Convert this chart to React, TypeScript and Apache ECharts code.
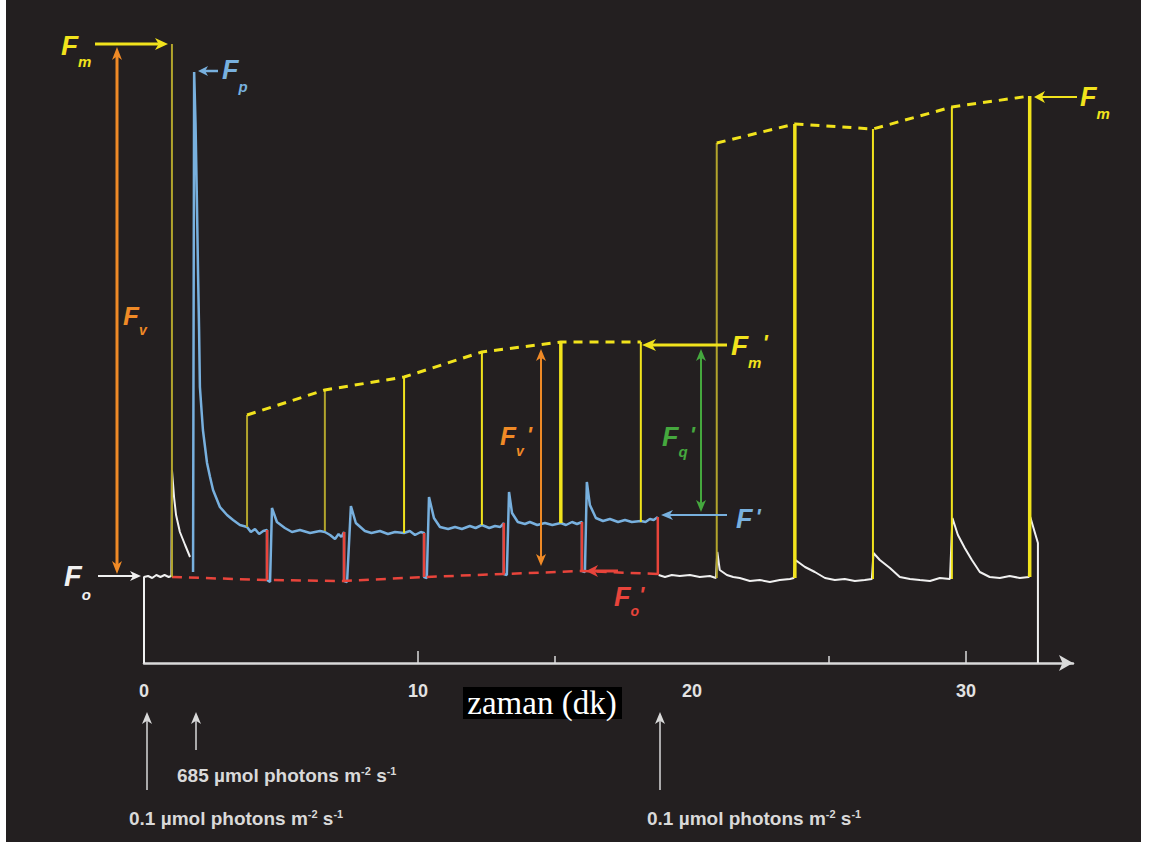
import React, { useEffect, useRef } from "react";
import * as echarts from "echarts";

// ---------- axis ----------
const TIME_LABELS = [0, 10, 20, 30];
const MAJOR_TICKS = [10, 30];
const MINOR_TICKS = [15, 25];

// ---------- traces (time in min, fluorescence in a.u.) ----------
// dark-adapted leaf: Fo baseline and the Fm saturating flash decay (white)
const darkTrace: number[][] = [
  [0, 0], [0, 86], [0.15, 87], [0.3, 85], [0.45, 88], [0.6, 86], [0.75, 88], [0.9, 86], [1.0, 87],
  [1.02, 193], [1.1, 165], [1.17, 148], [1.31, 131], [1.5, 118], [1.68, 106],
];

// actinic light on (blue)
const lightTrace: number[][] = [
  [1.79, 91], [1.83, 591], [1.88, 540], [1.93, 463], [1.97, 393], [2.01, 333], [2.04, 276], [2.15, 233],
  [2.3, 200], [2.41, 186], [2.52, 173], [2.77, 156], [3.03, 148], [3.25, 143], [3.5, 138], [3.76, 136],
  [3.9, 131], [4.05, 134], [4.2, 129], [4.35, 132], [4.49, 133],
  [4.49, 83], [4.6, 81], [4.67, 155], [4.85, 141], [5.14, 135], [5.4, 131], [5.69, 133], [6.06, 130],
  [6.42, 132], [6.6, 131], [6.79, 128], [6.97, 124], [7.1, 129], [7.2, 126], [7.3, 131],
  [7.3, 82], [7.41, 81], [7.55, 157], [7.73, 140], [8.06, 132], [8.3, 130], [8.61, 132], [8.9, 129],
  [9.16, 131], [9.49, 130], [9.7, 132], [9.89, 128], [10.1, 131], [10.22, 130],
  [10.22, 86], [10.32, 85], [10.4, 166], [10.58, 145], [10.8, 136], [11.1, 134], [11.35, 136], [11.6, 134],
  [11.89, 137], [12.1, 135], [12.33, 138], [12.6, 135], [12.81, 137], [13.0, 136], [13.13, 140],
  [13.13, 89], [13.24, 88], [13.32, 171], [13.43, 150], [13.64, 141], [13.9, 139], [14.08, 141], [14.35, 138],
  [14.63, 140], [14.9, 138], [15.21, 140], [15.4, 138], [15.62, 141], [15.8, 139], [15.98, 141],
  [15.98, 92], [16.09, 91], [16.16, 181], [16.27, 158], [16.49, 145], [16.75, 142], [17.0, 144], [17.3, 141],
  [17.55, 143], [17.8, 141], [18.13, 142], [18.3, 141], [18.46, 144], [18.6, 143], [18.75, 146],
];

// dark recovery after actinic light off (white)
const recoveryTrace: number[][] = [
  [18.78, 88], [19.01, 86], [19.26, 88], [19.55, 87], [19.92, 88], [20.28, 86], [20.65, 87], [20.87, 85],
  [20.92, 111], [21.01, 93], [21.27, 88], [21.5, 86], [21.74, 85], [22.11, 82], [22.47, 83], [22.84, 81],
  [23.2, 83], [23.57, 84], [23.71, 85],
  [23.77, 103], [24.12, 96], [24.48, 91], [24.85, 85], [25.21, 83], [25.57, 84], [25.94, 82], [26.3, 83], [26.56, 84],
  [26.62, 110], [26.85, 103], [27.22, 95], [27.58, 86], [27.95, 84], [28.31, 83], [28.68, 82], [29.04, 85], [29.41, 84],
  [29.5, 145], [29.7, 128], [29.95, 115], [30.21, 103], [30.5, 91], [30.86, 86], [31.23, 85], [31.59, 87],
  [31.96, 85], [32.29, 86],
  [32.34, 146], [32.62, 120], [32.62, 0],
];

// saturating flashes
const flashTimes = [1.02, 3.76, 6.6, 9.49, 12.33, 15.21, 18.13, 20.9, 23.75, 26.6, 29.48, 32.32];
const flashBase = [86, 136, 132, 130, 138, 140, 141, 85, 85, 84, 84, 86];
const flashPeak = [619, 248, 273, 286, 311, 321, 321, 520, 539, 534, 556, 567];
const flashKind = [0, 0, 0, 1, 1, 2, 1, 0, 2, 1, 1, 2];

// Fm' (light) and Fm (recovery) envelopes
const fmPrimeIdx = [1, 2, 3, 4, 5, 6];
const fmRecoveryIdx = [7, 8, 9, 10, 11];

// dark pulses: F' -> Fo'
const dipTimes = [4.49, 7.3, 10.22, 13.13, 15.98, 18.75];
const dipFprime = [133, 131, 130, 140, 141, 146];
const dipFoPrime = [83, 82, 86, 89, 92, 88];

// Fo' trend line
const foTrendTimes = [1.02, 4.49, 7.3, 10.22, 13.13, 15.98, 18.75];
const foTrendValues = [86, 83, 82, 86, 89, 92, 89];

// ---------- styles ----------
const BG = "#231f20";
const WHITE = "#f0f0f0";
const BLUE = "#78b0de";
const RED = "#e8443b";
const ORANGE = "#f08a26";
const GREEN = "#45a83e";
const YELLOW = "#f1e31c";
const OLIVE = "#b2a42c";
const AXIS = "#dadada";
const TEXT_GREY = "#d9d9d9";
const FLASH_STYLES = [
  { color: OLIVE, width: 2 },
  { color: YELLOW, width: 2 },
  { color: YELLOW, width: 3.5 },
];

const lineS = (data: any[], color: string, width: number, type: any = "solid", z = 3) => ({
  type: "line",
  data,
  symbol: "none",
  silent: true,
  clip: false,
  z,
  lineStyle: { color, width, type },
});

function head(tx: number, ty: number, dx: number, dy: number, len: number, half: number, color: string) {
  const nx = -dy, ny = dx;
  const bx = tx - dx * len, by = ty - dy * len;
  const mx = tx - dx * len * 0.72, my = ty - dy * len * 0.72;
  return {
    type: "polygon",
    z: 100,
    shape: { points: [[tx, ty], [bx + nx * half, by + ny * half], [mx, my], [bx - nx * half, by - ny * half]] },
    style: { fill: color },
  };
}

function arrow(x1: number, y1: number, x2: number, y2: number, color: string, w: number, len: number, half: number, both = false) {
  const L = Math.hypot(x2 - x1, y2 - y1);
  const dx = (x2 - x1) / L, dy = (y2 - y1) / L;
  const sx = both ? x1 + dx * len * 0.7 : x1;
  const sy = both ? y1 + dy * len * 0.7 : y1;
  const ex = x2 - dx * len * 0.7, ey = y2 - dy * len * 0.7;
  const els: any[] = [
    { type: "line", z: 100, shape: { x1: sx, y1: sy, x2: ex, y2: ey }, style: { stroke: color, lineWidth: w } },
    head(x2, y2, dx, dy, len, half, color),
  ];
  if (both) els.push(head(x1, y1, -dx, -dy, len, half, color));
  return els;
}

// "F" with optional subscript and prime, as one rich text
function flabel(
  x: number, yc: number, color: string, size: number,
  sub: string | null, subCenter: number, subSize: number,
  prime: boolean, primeGap = 0
) {
  const top = yc - size / 2;
  const base = { fill: color, fontWeight: "bold", fontStyle: "italic", fontFamily: "Liberation Sans" };
  const LH = sub ? Math.max(size, subCenter - top + subSize / 2) : size;
  let text = "{f|F}";
  const rich: any = { f: { ...base, fontSize: size, lineHeight: LH, verticalAlign: "top" } };
  if (sub) {
    text += `{s|${sub}}`;
    rich.s = { ...base, fontSize: subSize, lineHeight: LH, verticalAlign: "bottom" };
  }
  if (prime) {
    text += "{p|'}";
    rich.p = { ...base, fontSize: 22, lineHeight: LH, verticalAlign: "top", padding: [0, 0, 0, primeGap] };
  }
  return { type: "text", z: 100, x, y: top, style: { text, rich, align: "left", verticalAlign: "top" } };
}

function photonText(x: number, y: number, value: string) {
  return {
    type: "text",
    z: 100,
    x,
    y,
    style: {
      text: `{n|${value} µmol photons m}{s|-2}{n| s}{s|-1}`,
      align: "left",
      verticalAlign: "middle",
      rich: {
        n: { fontSize: 19, fontWeight: "bold", fontFamily: "Liberation Sans", fill: TEXT_GREY, lineHeight: 20, verticalAlign: "bottom" },
        s: { fontSize: 11, fontWeight: "bold", fontFamily: "Liberation Sans", fill: TEXT_GREY, lineHeight: 7, verticalAlign: "top" },
      },
    },
  };
}

function buildOption() {
  const series: any[] = [];
  series.push(lineS(darkTrace, WHITE, 2));
  series.push(lineS(recoveryTrace, WHITE, 2));
  series.push(lineS(lightTrace, BLUE, 2.5, "solid", 4));
  dipTimes.forEach((t, i) => {
    series.push(lineS([[t, dipFprime[i]], [t, dipFoPrime[i]]], RED, 2.5, "solid", 5));
  });
  series.push(lineS(foTrendTimes.map((t, i) => [t, foTrendValues[i]]), RED, 2.5, [10, 7], 5));
  flashTimes.forEach((t, i) => {
    const st = FLASH_STYLES[flashKind[i]];
    series.push(lineS([[t, flashBase[i]], [t, flashPeak[i]]], st.color, st.width, "solid", 6));
  });
  series.push(lineS(fmPrimeIdx.map((i) => [flashTimes[i], flashPeak[i]]), YELLOW, 3, [9, 7], 6));
  series.push(lineS(fmRecoveryIdx.map((i) => [flashTimes[i], flashPeak[i]]), YELLOW, 3, [9, 7], 6));

  const graphic: any[] = [
    // page edges
    { type: "rect", z: 200, shape: { x: 0, y: 0, width: 6, height: 845 }, style: { fill: "#fff" } },
    { type: "rect", z: 200, shape: { x: 1141, y: 0, width: 8, height: 845 }, style: { fill: "#fff" } },
    { type: "rect", z: 200, shape: { x: 0, y: 842, width: 1149, height: 3 }, style: { fill: "#fff" } },
    // Fm (left)
    ...arrow(95, 44, 168, 44, YELLOW, 3, 13, 6),
    flabel(61, 45, YELLOW, 28, "m", 61, 15, false),
    // Fv
    ...arrow(117, 574, 117, 47, ORANGE, 3, 13, 5, true),
    flabel(123, 316, ORANGE, 26, "v", 330, 14, false),
    // Fp
    ...arrow(218, 71, 198, 71, BLUE, 2.5, 10, 5),
    flabel(222, 70, BLUE, 27, "p", 86, 15, false),
    // Fo
    ...arrow(98, 576, 141, 576, WHITE, 2, 11, 5),
    flabel(64, 576, WHITE, 29, "o", 594, 15, false),
    // Fv'
    ...arrow(541, 566, 541, 349, ORANGE, 2, 12, 5, true),
    flabel(500, 436, ORANGE, 26, "v", 451, 14, true, 3),
    // Fm'
    ...arrow(727, 345, 642, 345, YELLOW, 3, 14, 6),
    flabel(731, 345, YELLOW, 28, "m", 362, 15, true, 1),
    // Fq'
    ...arrow(701, 512, 701, 349, GREEN, 2, 12, 5, true),
    flabel(662, 437, GREEN, 27, "q", 451, 15, true, 2),
    // F'
    ...arrow(727, 515, 661, 515, BLUE, 2, 12, 5),
    flabel(736, 519, BLUE, 27, null, 0, 0, true, 3),
    // Fo'
    ...arrow(618, 571, 586, 571, RED, 3, 12, 6),
    flabel(614, 597, RED, 27, "o", 611, 14, true, 0),
    // Fm (right)
    ...arrow(1077, 97, 1034, 97, YELLOW, 2, 11, 6),
    flabel(1080, 97, YELLOW, 27, "m", 113, 15, false),
    // light regime arrows
    ...arrow(147, 790, 147, 712, TEXT_GREY, 1.5, 12, 5),
    ...arrow(196, 750, 196, 712, TEXT_GREY, 1.5, 12, 5),
    ...arrow(660, 790, 660, 712, TEXT_GREY, 1.5, 12, 5),
    photonText(177, 775, "685"),
    photonText(129, 818, "0.1"),
    photonText(647, 818, "0.1"),
    // axis title
    { type: "rect", z: 100, shape: { x: 463, y: 687, width: 159, height: 32 }, style: { fill: "#000" } },
    {
      type: "text",
      z: 101,
      x: 542,
      y: 703,
      style: {
        text: "zaman (dk)",
        fill: "#ffffff",
        fontSize: 33,
        fontFamily: "Liberation Serif",
        align: "center",
        verticalAlign: "middle",
      },
    },
  ];

  return {
    animation: false,
    backgroundColor: BG,
    grid: { left: 144, right: 76, top: 13, bottom: 182, containLabel: false },
    xAxis: [
      {
        type: "value",
        min: 0,
        max: 33.9,
        position: "bottom",
        axisLine: { show: true, lineStyle: { color: AXIS, width: 2.5 }, symbol: ["none", "arrow"], symbolSize: [12, 14] },
        axisTick: { show: true, inside: true, length: 12, lineStyle: { color: AXIS, width: 1.5 }, customValues: MAJOR_TICKS },
        axisLabel: {
          show: true,
          customValues: TIME_LABELS,
          color: "#e2e2e2",
          fontSize: 18,
          fontWeight: "bold",
          fontFamily: "Liberation Sans",
          margin: 19,
        },
        splitLine: { show: false },
      },
      {
        type: "value",
        min: 0,
        max: 33.9,
        position: "bottom",
        offset: 0,
        axisLine: { show: false },
        axisTick: { show: true, inside: true, length: 7, lineStyle: { color: AXIS, width: 1.5 }, customValues: MINOR_TICKS },
        axisLabel: { show: false },
        splitLine: { show: false },
      },
    ],
    yAxis: { type: "value", min: 0, max: 650, show: false, splitLine: { show: false } },
    series,
    graphic,
  };
}

export default function App() {
  const ref = useRef<HTMLDivElement>(null);
  useEffect(() => {
    const chart = echarts.init(ref.current as HTMLDivElement, null, { renderer: "svg" });
    chart.setOption(buildOption() as any);
    return () => chart.dispose();
  }, []);
  return <div ref={ref} style={{ position: "fixed", left: 0, top: 0, width: 1149, height: 845 }} />;
}
